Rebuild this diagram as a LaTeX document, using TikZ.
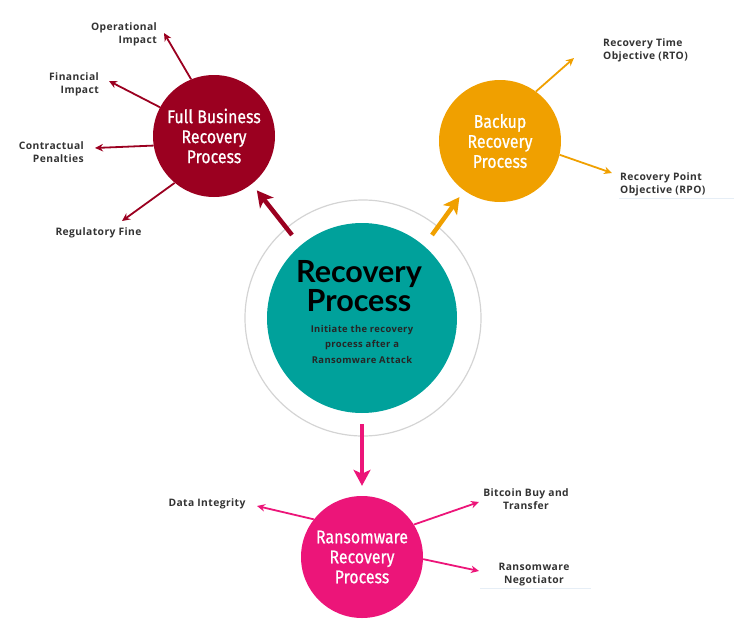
\documentclass[tikz,border=0pt]{standalone}
\usepackage{fontspec}
\setmainfont{Open Sans}
\newfontfamily\lblfont[LetterSpace=4]{Open Sans}
\newfontfamily\condfont[FakeStretch=0.86,FakeBold=0.7]{Fira Sans}
\newfontfamily\titlefont{Lato}
\usetikzlibrary{arrows.meta}
\definecolor{fbred}{HTML}{9B0020}
\definecolor{bkorange}{HTML}{F0A000}
\definecolor{rcteal}{HTML}{00A19B}
\definecolor{rwpink}{HTML}{EC1579}
\definecolor{lblgray}{HTML}{333333}
\definecolor{ringgray}{HTML}{D4D4D4}
\definecolor{faint}{HTML}{E6EEF6}
\begin{document}
\begin{tikzpicture}[x=1pt,y=-1pt,
  circ/.style={circle, inner sep=0pt, minimum size=122pt, text=white, align=center,
    font=\condfont\fontsize{18.5}{20}\selectfont},
  lbl/.style={text=lblgray, inner sep=0pt, font=\lblfont\bfseries\fontsize{10.3}{13}\selectfont},
  thinarrow/.style={line width=1.8pt, -{Stealth[length=8pt,width=7.5pt]}},
  thickarrow/.style={line width=4.5pt, -{Stealth[length=16pt,width=17pt,inset=4pt]}}
]
\useasboundingbox (0,0) rectangle (734,624);

% central
\node[circle, draw=ringgray, line width=1.2pt, minimum size=236pt, inner sep=0pt] (ring) at (363,318) {};
\node[circle, fill=rcteal, minimum size=190pt, inner sep=0pt] (main) at (362,318) {};
\node[inner sep=0pt, align=center, font=\titlefont\bfseries\fontsize{30.5}{29.5}\selectfont] (title) at (359,286) {Recovery\\Process};
\node[inner sep=0pt, align=center, text=black!85, font=\lblfont\bfseries\fontsize{9.4}{15.5}\selectfont] (sub) at (362,344) {Initiate the recovery\\process after a\\Ransomware Attack};

% satellites
\node[circ, fill=fbred] (full) at (214,136) {Full Business\\Recovery\\Process};
\node[circ, fill=bkorange] (bk) at (500,141) {Backup\\Recovery\\Process};
\node[circ, fill=rwpink] (rw) at (362,557) {Ransomware\\Recovery\\Process};

% thick arrows
\coordinate (s1) at (292,235);
\coordinate (s2) at (432,235);
\coordinate (s3) at (362,424);
\draw[thickarrow, fbred, shorten >=8pt] (s1) -- (full);
\draw[thickarrow, bkorange, shorten >=8pt] (s2) -- (bk);
\draw[thickarrow, rwpink, shorten >=10pt] (s3) -- (rw);

% red branch
\coordinate (r1) at (164,33);
\coordinate (r2) at (109,81);
\coordinate (r3) at (95,148);
\coordinate (r4) at (122,221);
\draw[thinarrow, fbred] (full.112) -- (r1);
\draw[thinarrow, fbred] (full.152) -- (r2);
\draw[thinarrow, fbred] (full.189) -- (r3);
\draw[thinarrow, fbred] (full.230) -- (r4);
\node[lbl, anchor=east, align=right] (l1) at (157,34) {Operational\\Impact};
\node[lbl, anchor=east, align=right] (l2) at (99,84) {Financial\\Impact};
\node[lbl, anchor=east, align=right] (l3) at (84,152) {Contractual\\Penalties};
\node[lbl] (l4) at (98.5,233) {Regulatory Fine};

% orange branch
\coordinate (o1) at (574,58);
\coordinate (o2) at (612,173);
\draw[thinarrow, bkorange] (bk.54) -- (o1);
\draw[thinarrow, bkorange] (bk.-13) -- (o2);
\node[lbl, anchor=west, align=left] (l5) at (603,50) {Recovery Time\\Objective (RTO)};
\node[lbl, anchor=west, align=left] (l6) at (620,184) {Recovery Point\\Objective (RPO)};

% pink branch
\coordinate (p1) at (257,506);
\coordinate (p2) at (479,502);
\coordinate (p3) at (479,571);
\draw[thinarrow, rwpink] (rw.142) -- (p1);
\draw[thinarrow, rwpink] (rw.32) -- (p2);
\draw[thinarrow, rwpink] (rw.-2) -- (p3);
\node[lbl] (l7) at (207,504) {Data Integrity};
\node[lbl, align=center] (l8) at (526,499.5) {Bitcoin Buy and\\Transfer};
\node[lbl, align=center] (l9) at (534,574.5) {Ransomware\\Negotiator};

% faint underlines
\coordinate (u1) at (619,198);
\coordinate (u2) at (734,198);
\coordinate (u3) at (480,588);
\coordinate (u4) at (591,588);
\draw[faint, line width=0.8pt] (u1) -- (u2);
\draw[faint, line width=0.8pt] (u3) -- (u4);
\end{tikzpicture}
\end{document}
